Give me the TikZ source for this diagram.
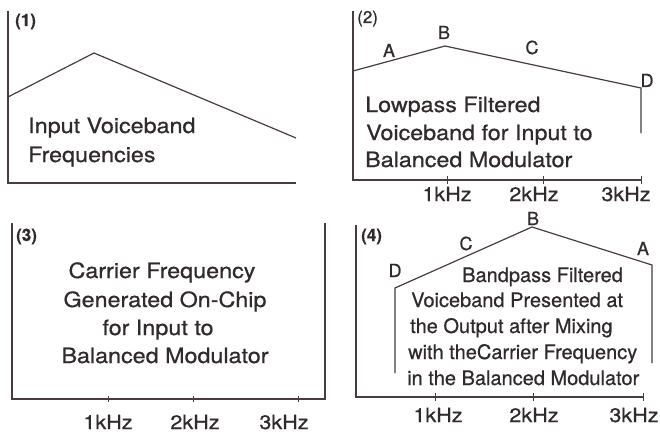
\documentclass[tikz,border=0pt]{standalone}
\usepackage{fontspec}
\setmainfont{TeX Gyre Heros}[FakeBold=0.6]
\newfontfamily\widefont{TeX Gyre Heros}[FakeStretch=1.11,FakeBold=0.6]
\definecolor{ink}{RGB}{72,60,60}
\definecolor{txt}{RGB}{48,42,42}
\begin{document}
\begin{tikzpicture}[x=1pt,y=-1pt,
  axis/.style={draw=ink,line width=1.2pt},
  curve/.style={draw=ink,line width=1.2pt,line join=miter},
  tick/.style={draw=ink,line width=1pt},
  bigtxt/.style={inner sep=0pt,anchor=base west,text=txt,font=\widefont\fontsize{21}{25}\selectfont},
  ctrtxt/.style={inner sep=0pt,anchor=base,text=txt,font=\widefont\fontsize{21}{25}\selectfont},
  smtxt/.style={inner sep=0pt,anchor=base west,text=txt,font=\fontsize{20}{24}\selectfont},
  khz/.style={inner sep=0pt,anchor=base,text=txt,font=\widefont\fontsize{19.5}{24}\selectfont},
  pnum/.style={inner sep=0pt,anchor=base west,text=txt,font=\bfseries\fontsize{17}{20}\selectfont},
  pnumr/.style={inner sep=0pt,anchor=base west,text=txt,font=\fontsize{17}{20}\selectfont},
  pt/.style={inner sep=0pt,anchor=base,text=txt,font=\fontsize{18}{20}\selectfont}]
\useasboundingbox[fill=white] (0,0) rectangle (660,433);

% ---------- Panel 1 ----------
\draw[axis] (8,11) -- (8,183) -- (296,183);
\draw[curve] (8,97) -- (94,53) -- (296,138);
\node[pnum] (n1) at (15,26) {(1)};
\node[bigtxt] (t1a) at (28,133) {Input Voiceband};
\node[bigtxt] (t1b) at (28,162) {Frequencies};

% ---------- Panel 2 ----------
\draw[axis] (353,11) -- (353,180) -- (641,180);
\foreach \x in {447,543,641} \draw[tick] (\x,176) -- (\x,184);
\draw[curve] (353,71) -- (445,46) -- (641,88) -- (641,133);
\node[pnumr] (n2) at (357,23) {(2)};
\node[pt] (a2) at (389,57) {A};
\node[pt] (b2) at (444,39) {B};
\node[pt] (c2) at (532,54) {C};
\node[pt] (d2) at (647,87) {D};
\node[bigtxt] (t2a) at (365,112) {Lowpass Filtered};
\node[bigtxt] (t2b) at (366,140) {Voiceband for Input to};
\node[bigtxt] (t2c) at (365,167) {Balanced Modulator};
\node[khz] (k21) at (447,201) {1kHz};
\node[khz] (k22) at (534,201) {2kHz};
\node[khz] (k23) at (626,201) {3kHz};

% ---------- Panel 3 ----------
\draw[axis] (12,223) -- (12,399) -- (325,399) -- (325,223);
\foreach \x in {108,193,298} \draw[tick] (\x,396) -- (\x,402);
\node[pnum] (n3) at (16,241) {(3)};
\node[ctrtxt] (t3a) at (162,278) {Carrier Frequency};
\node[ctrtxt] (t3b) at (165,307) {Generated On-Chip};
\node[ctrtxt] (t3c) at (158,335) {for Input to};
\node[ctrtxt] (t3d) at (165,363) {Balanced Modulator};
\node[khz] (k31) at (108,429) {1kHz};
\node[khz] (k32) at (195,429) {2kHz};
\node[khz] (k33) at (284,429) {3kHz};

% ---------- Panel 4 ----------
\draw[axis] (356,225) -- (356,397) -- (643,397);
\foreach \x in {435,533,643} \draw[tick] (\x,393) -- (\x,401);
\draw[curve] (395,373) -- (395,288) -- (532,227) -- (652,265) -- (652,363);
\node[pnum] (n4) at (361,241) {(4)};
\node[pt] (b4) at (533,225) {B};
\node[pt] (c4) at (466,250) {C};
\node[pt] (a4) at (643,255) {A};
\node[pt] (d4) at (395,277) {D};
\node[smtxt] (t4a) at (462,282) {Bandpass Filtered};
\node[smtxt] (t4b) at (411,307) {Voiceband Presented at};
\node[smtxt] (t4c) at (410,333) {the Output after Mixing};
\node[smtxt] (t4d) at (408,359) {with theCarrier Frequency};
\node[smtxt] (t4e) at (407,385) {in the Balanced Modulator};
\node[khz] (k41) at (438,422) {1kHz};
\node[khz] (k42) at (534,422) {2kHz};
\node[khz] (k43) at (634,422) {3kHz};
\end{tikzpicture}
\end{document}
